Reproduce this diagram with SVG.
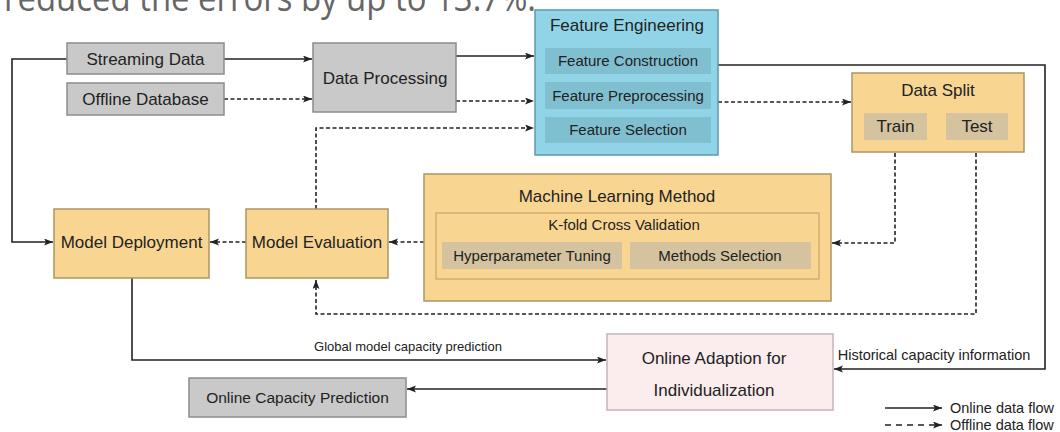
<svg xmlns="http://www.w3.org/2000/svg" width="1060" height="432" viewBox="0 0 1060 432">
<style>
text{font-family:"Liberation Sans",Arial,sans-serif;fill:#222;text-anchor:middle}
.t17{font-size:17px}
.t15{font-size:15px}
.gray{fill:#c9c9c9;stroke:#8c8c8c;stroke-width:1.5}
.orange{fill:#f8d692;stroke:#ad9567;stroke-width:1.5}
.tan{fill:#d5c29e;stroke:none}
.inner{fill:none;stroke:#c9a469;stroke-width:1.2}
.blue{fill:#91d4e7;stroke:#5b9aae;stroke-width:1.5}
.bsub{fill:#80bfcf;stroke:none}
.pink{fill:#fbecee;stroke:#c9b3b7;stroke-width:1.5}
.c{fill:none;stroke:#222;stroke-width:1.6}
.d{stroke-dasharray:4 2.5}
.top{font-family:"Open Sans","DejaVu Sans",sans-serif;font-size:36px;fill:#666;text-anchor:start}
</style>
<defs>
<marker id="ah" markerUnits="userSpaceOnUse" markerWidth="10" markerHeight="8" refX="9" refY="3.5" orient="auto">
<path d="M0,0 L9,3.5 L0,7 L2,3.5 z" fill="#222"/>
</marker>
</defs>
<text class="top" x="4" y="11" textLength="532" lengthAdjust="spacingAndGlyphs">reduced the errors by up to 13.7%.</text>

<g id="connectors">
<path class="c" d="M224,59 H312" marker-end="url(#ah)"/>
<path class="c d" d="M224,99 H312" marker-end="url(#ah)"/>
<path class="c" d="M456,56 H534" marker-end="url(#ah)"/>
<path class="c d" d="M456,101 H534" marker-end="url(#ah)"/>
<path class="c d" d="M316,209 V128 H534" marker-end="url(#ah)"/>
<path class="c" d="M718,65 H1045 V369 H834" marker-end="url(#ah)"/>
<path class="c d" d="M718,102 H851" marker-end="url(#ah)"/>
<path class="c d" d="M895,140 V243 H832" marker-end="url(#ah)"/>
<path class="c d" d="M976,140 V314 H316 V280" marker-end="url(#ah)"/>
<path class="c d" d="M424,242 H389" marker-end="url(#ah)"/>
<path class="c d" d="M246,242 H210" marker-end="url(#ah)"/>
<path class="c" d="M67,59 H12 V242 H53" marker-end="url(#ah)"/>
<path class="c" d="M132,278 V360 H606" marker-end="url(#ah)"/>
<path class="c" d="M607,389 H407" marker-end="url(#ah)"/>
<text x="408" y="351" style="font-size:13px">Global model capacity prediction</text>
<text x="934" y="360" style="font-size:14.5px">Historical capacity information</text>
</g>

<g id="streaming-data">
<rect class="gray" x="67" y="43" width="157" height="31"/>
<text class="t17" x="145.5" y="65">Streaming Data</text>
</g>
<g id="offline-database">
<rect class="gray" x="67" y="83" width="157" height="32"/>
<text class="t17" x="145.5" y="105">Offline Database</text>
</g>
<g id="data-processing">
<rect class="gray" x="313" y="43" width="143" height="69"/>
<text class="t17" x="385" y="84">Data Processing</text>
</g>
<g id="feature-engineering">
<rect class="blue" x="535" y="10" width="183" height="145"/>
<text class="t17" x="627" y="31">Feature Engineering</text>
<rect class="bsub" x="545" y="48" width="166" height="26"/>
<text class="t15" x="628" y="66">Feature Construction</text>
<rect class="bsub" x="545" y="82" width="166" height="27"/>
<text class="t15" x="628" y="101">Feature Preprocessing</text>
<rect class="bsub" x="545" y="117" width="166" height="26"/>
<text class="t15" x="628" y="135">Feature Selection</text>
</g>
<g id="data-split">
<rect class="orange" x="852" y="73" width="172" height="79"/>
<text class="t17" x="938" y="96">Data Split</text>
<rect class="tan" x="864" y="113" width="63" height="27"/>
<text class="t17" x="895.5" y="132">Train</text>
<rect class="tan" x="946" y="113" width="62" height="27"/>
<text class="t17" x="977" y="132">Test</text>
</g>
<g id="machine-learning-method">
<rect class="orange" x="424" y="174" width="407" height="127"/>
<text class="t17" x="617" y="202">Machine Learning Method</text>
<rect class="inner" x="436" y="213" width="383" height="66"/>
<text class="t15" x="624" y="230">K-fold Cross Validation</text>
<rect class="tan" x="442" y="242" width="180" height="27"/>
<text class="t15" x="532" y="261">Hyperparameter Tuning</text>
<rect class="tan" x="630" y="242" width="181" height="27"/>
<text class="t15" x="720" y="261">Methods Selection</text>
</g>
<g id="model-deployment">
<rect class="orange" x="54" y="209" width="155" height="69"/>
<text class="t17" x="131.5" y="248">Model Deployment</text>
</g>
<g id="model-evaluation">
<rect class="orange" x="246" y="209" width="142" height="69"/>
<text class="t17" x="317" y="248">Model Evaluation</text>
</g>
<g id="online-adaption">
<rect class="pink" x="607" y="334" width="226" height="76"/>
<text class="t17" x="714" y="364">Online Adaption for</text>
<text class="t17" x="714" y="396">Individualization</text>
</g>
<g id="online-capacity-prediction">
<rect class="gray" x="189" y="378" width="217" height="39"/>
<text x="297.5" y="403" style="font-size:15.5px">Online Capacity Prediction</text>
</g>
<g id="legend">
<path class="c" d="M885,408 H942" marker-end="url(#ah)"/>
<path class="c" d="M885,425 H942" stroke-dasharray="6 5" marker-end="url(#ah)"/>
<text x="950" y="413" style="font-size:14.5px;text-anchor:start">Online data flow</text>
<text x="950" y="430" style="font-size:14.5px;text-anchor:start">Offline data flow</text>
</g>
</svg>
